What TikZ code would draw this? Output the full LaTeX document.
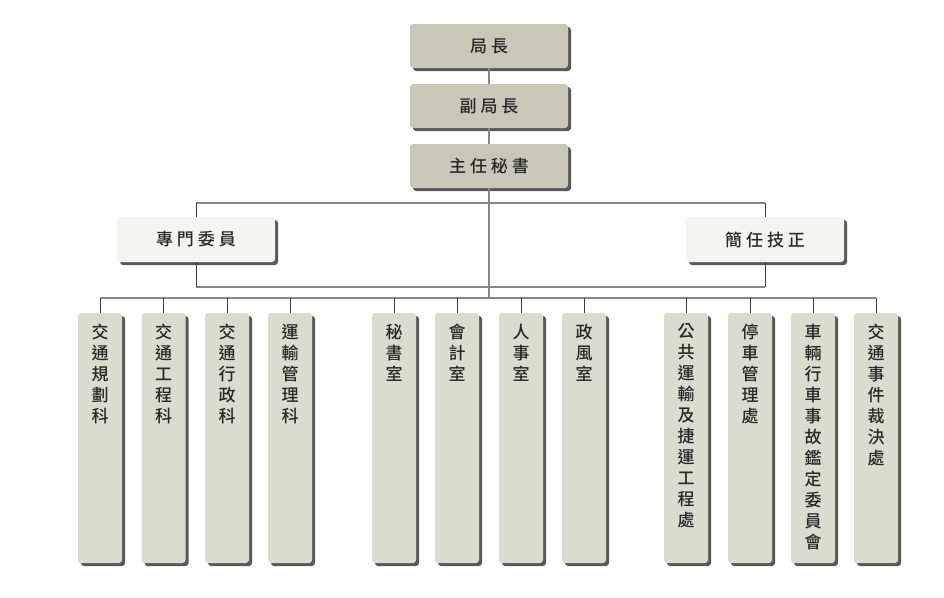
\documentclass[tikz,border=0pt]{standalone}
\usepackage{fontspec}
\usepackage{tikz}
\usetikzlibrary{shadows}
\newfontfamily\cjk[UprightFont=* Medium]{Noto Sans CJK TC}
\definecolor{headfill}{RGB}{201, 199, 184}
\definecolor{unitfill}{RGB}{219, 219, 206}
\definecolor{stafffill}{RGB}{245, 244, 240}
\definecolor{inktext}{RGB}{40, 40, 40}
\definecolor{linegray}{RGB}{135, 135, 135}
\newcommand{\gp}{\hspace{4pt}}

\begin{document}
\begin{tikzpicture}[x=1pt, y=-1pt,
				boxbase/.style={rounded corners=3pt, inner sep=0pt, text=inktext,
					drop shadow={shadow xshift=3pt, shadow yshift=-3pt, fill=black, opacity=0.65}},
				head/.style={boxbase, fill=headfill, minimum width=158pt, minimum height=44pt,
					font=\cjk\fontsize{17}{20}\selectfont},
				staff/.style={boxbase, fill=stafffill, minimum width=158pt, minimum height=45pt,
					font=\cjk\fontsize{17}{20}\selectfont},
				unit/.style={boxbase, fill=unitfill, minimum width=44pt, minimum height=250pt},
				vtext/.style={anchor=north, inner sep=0pt, align=center, text=inktext,
					font=\cjk\fontsize{17}{21}\selectfont},
				trunk/.style={linegray, line width=1.3pt},
				drop/.style={black!75, line width=0.8pt}]
				
				\useasboundingbox (0,0) rectangle (944,597);
				
				%--- Top chain ---
				\node[head] (chief) at (489,46) {局\gp 長};
				\node[head] (deputy) at (489,106) {副\gp 局\gp 長};
				\node[head] (secgen) at (489,166) {主\gp 任\gp 秘\gp 書};
				
				%--- Staff posts ---
				\node[staff] (expert) at (196,239.5) {專\gp 門\gp 委\gp 員};
				\node[staff] (engineer) at (765,239.5) {簡\gp 任\gp 技\gp 正};
				
				%--- Bus coordinates ---
				\coordinate (brtop) at (489,203);
				\coordinate (brbot) at (489,287);
				\coordinate (bus) at (489,298);
				
				%--- Divisions (left) ---
				\node[unit] (u1) at (100,438) {};
				\node[unit] (u2) at (163.5,438) {};
				\node[unit] (u3) at (227,438) {};
				\node[unit] (u4) at (290,438) {};
				%--- Offices (middle) ---
				\node[unit] (u5) at (394,438) {};
				\node[unit] (u6) at (457,438) {};
				\node[unit] (u7) at (521,438) {};
				\node[unit] (u8) at (584,438) {};
				%--- Agencies (right) ---
				\node[unit] (u9) at (686,438) {};
				\node[unit] (u10) at (750,438) {};
				\node[unit] (u11) at (813,438) {};
				\node[unit] (u12) at (876,438) {};
				
				\node[vtext] (t1) at ([yshift=-11pt]u1.north) {交\\通\\規\\劃\\科};
				\node[vtext] (t2) at ([yshift=-11pt]u2.north) {交\\通\\工\\程\\科};
				\node[vtext] (t3) at ([yshift=-11pt]u3.north) {交\\通\\行\\政\\科};
				\node[vtext] (t4) at ([yshift=-11pt]u4.north) {運\\輸\\管\\理\\科};
				\node[vtext] (t5) at ([yshift=-11pt]u5.north) {秘\\書\\室};
				\node[vtext] (t6) at ([yshift=-11pt]u6.north) {會\\計\\室};
				\node[vtext] (t7) at ([yshift=-11pt]u7.north) {人\\事\\室};
				\node[vtext] (t8) at ([yshift=-11pt]u8.north) {政\\風\\室};
				\node[vtext] (t9) at ([yshift=-11pt]u9.north) {公\\共\\運\\輸\\及\\捷\\運\\工\\程\\處};
				\node[vtext] (t10) at ([yshift=-11pt]u10.north) {停\\車\\管\\理\\處};
				\node[vtext] (t11) at ([yshift=-11pt]u11.north) {車\\輛\\行\\車\\事\\故\\鑑\\定\\委\\員\\會};
				\node[vtext] (t12) at ([yshift=-11pt]u12.north) {交\\通\\事\\件\\裁\\決\\處};
				
				%--- Connectors ---
				\draw[trunk] (chief) -- (deputy);
				\draw[trunk] (deputy) -- (secgen);
				\draw[trunk] (secgen) -- (bus);
				\draw[trunk] (expert.north |- brtop) -- (engineer.north |- brtop);
				\draw[trunk] (expert.south |- brbot) -- (engineer.south |- brbot);
				\draw[drop] (expert.north) -- (expert.north |- brtop);
				\draw[drop] (expert.south) -- (expert.south |- brbot);
				\draw[drop] (engineer.north) -- (engineer.north |- brtop);
				\draw[drop] (engineer.south) -- (engineer.south |- brbot);
				\draw[trunk] (u1.north |- bus) -- (u12.north |- bus);
				\draw[drop] (u1.north) -- (u1.north |- bus);
				\draw[drop] (u2.north) -- (u2.north |- bus);
				\draw[drop] (u3.north) -- (u3.north |- bus);
				\draw[drop] (u4.north) -- (u4.north |- bus);
				\draw[drop] (u5.north) -- (u5.north |- bus);
				\draw[drop] (u6.north) -- (u6.north |- bus);
				\draw[drop] (u7.north) -- (u7.north |- bus);
				\draw[drop] (u8.north) -- (u8.north |- bus);
				\draw[drop] (u9.north) -- (u9.north |- bus);
				\draw[drop] (u10.north) -- (u10.north |- bus);
				\draw[drop] (u11.north) -- (u11.north |- bus);
				\draw[drop] (u12.north) -- (u12.north |- bus);
			\end{tikzpicture}
\end{document}
